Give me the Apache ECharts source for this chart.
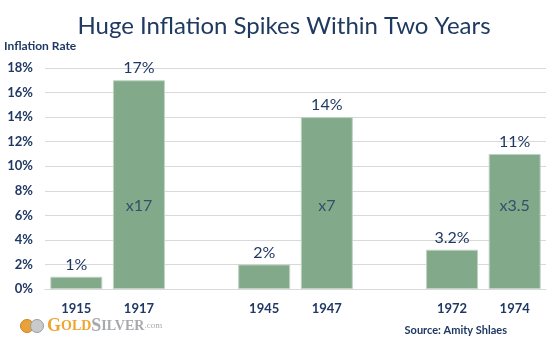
<!DOCTYPE html>
<html>
<head>
<meta charset="utf-8">
<script src="https://cdn.jsdelivr.net/npm/echarts@6/dist/echarts.min.js"></script>
<style>
html,body{margin:0;padding:0;background:#fff;}
#chart{width:555px;height:344px;}
</style>
</head>
<body>
<div id="chart"></div>
<script>
var categories = ['1915', '1917', '', '1945', '1947', '', '1972', '1974'];
var inflation = [1, 17, null, 2, 14, null, 3.2, 11];
var valueLabels = ['1%', '17%', '', '2%', '14%', '', '3.2%', '11%'];
var ratioLabels = ['', 'x17', '', '', 'x7', '', '', 'x3.5'];
var yTicks = [0, 2, 4, 6, 8, 10, 12, 14, 16, 18];

var navy = '#1F3864';
var font = 'Lato';
var ratioLevel = 6.8;

var chart = echarts.init(document.getElementById('chart'), null, {renderer: 'canvas'});
chart.setOption({
  animation: false,
  backgroundColor: '#ffffff',
  title: {
    text: 'Huge Inflation Spikes Within Two Years',
    left: 279, top: 9, textAlign: 'center',
    textStyle: {color: '#1F3A60', fontFamily: font, fontSize: 24, fontWeight: 'normal'}
  },
  graphic: [
    {type: 'text', left: 4, top: 40, style: {text: 'Inflation Rate', fill: navy, font: 'bold 12px ' + font}},
    {type: 'circle', shape: {cx: 27, cy: 326, r: 6.5}, style: {fill: '#E9A23B', stroke: '#C98220', lineWidth: 1}},
    {type: 'circle', shape: {cx: 37, cy: 326, r: 6.5}, style: {fill: '#C9CACC', stroke: '#9A9C9F', lineWidth: 1}},
    {type: 'text', left: 47, top: 317, style: {
      rich: {
        g: {fill: '#F0A530', fontFamily: 'Liberation Serif', fontSize: 18, fontWeight: 'bold'},
        go: {fill: '#F0A530', fontFamily: 'Liberation Serif', fontSize: 14, fontWeight: 'bold'},
        s: {fill: '#A7A9AC', fontFamily: 'Liberation Serif', fontSize: 18, fontWeight: 'bold'},
        so: {fill: '#A7A9AC', fontFamily: 'Liberation Serif', fontSize: 14, fontWeight: 'bold'},
        c: {fill: '#A7A9AC', fontFamily: 'Liberation Serif', fontSize: 9}
      },
      text: '{g|G}{go|OLD}{s|S}{so|ILVER}{c|.com}'
    }},
    {type: 'text', right: 48, top: 325, style: {text: 'Source: Amity Shlaes', fill: navy, font: 'bold 11px ' + font}}
  ],
  grid: {left: 45, right: 9, top: 68, bottom: 55, containLabel: false},
  xAxis: {
    type: 'category',
    data: categories,
    axisLine: {show: true, lineStyle: {color: '#D9D9D9'}},
    axisTick: {show: false},
    axisLabel: {color: navy, fontFamily: font, fontSize: 13, fontWeight: 'bold', margin: 13}
  },
  yAxis: {
    type: 'value',
    min: yTicks[0], max: yTicks[yTicks.length - 1], interval: 2,
    axisLine: {show: false},
    axisTick: {show: false},
    splitLine: {lineStyle: {color: '#D9D9D9', width: 1}},
    axisLabel: {color: navy, fontFamily: font, fontSize: 13, fontWeight: 'bold', margin: 12,
      formatter: function (v) { return v + '%'; }}
  },
  series: [
    {
      type: 'bar',
      data: inflation.map(function (v) { return v === null ? '-' : v; }),
      barCategoryGap: '17%',
      itemStyle: {color: '#82A98A', borderColor: '#BFD3C3', borderWidth: 1},
      label: {
        show: true, position: 'top', distance: 4,
        color: navy, fontFamily: font, fontSize: 16,
        formatter: function (p) { return valueLabels[p.dataIndex]; }
      }
    },
    {
      type: 'scatter',
      symbolSize: 1,
      itemStyle: {color: 'rgba(0,0,0,0)'},
      data: ratioLabels.map(function (t) { return t ? ratioLevel : '-'; }),
      label: {
        show: true, position: 'inside',
        color: navy, fontFamily: font, fontSize: 16,
        formatter: function (p) { return ratioLabels[p.dataIndex]; }
      },
      silent: true,
      z: 5
    }
  ]
});
</script>
</body>
</html>
